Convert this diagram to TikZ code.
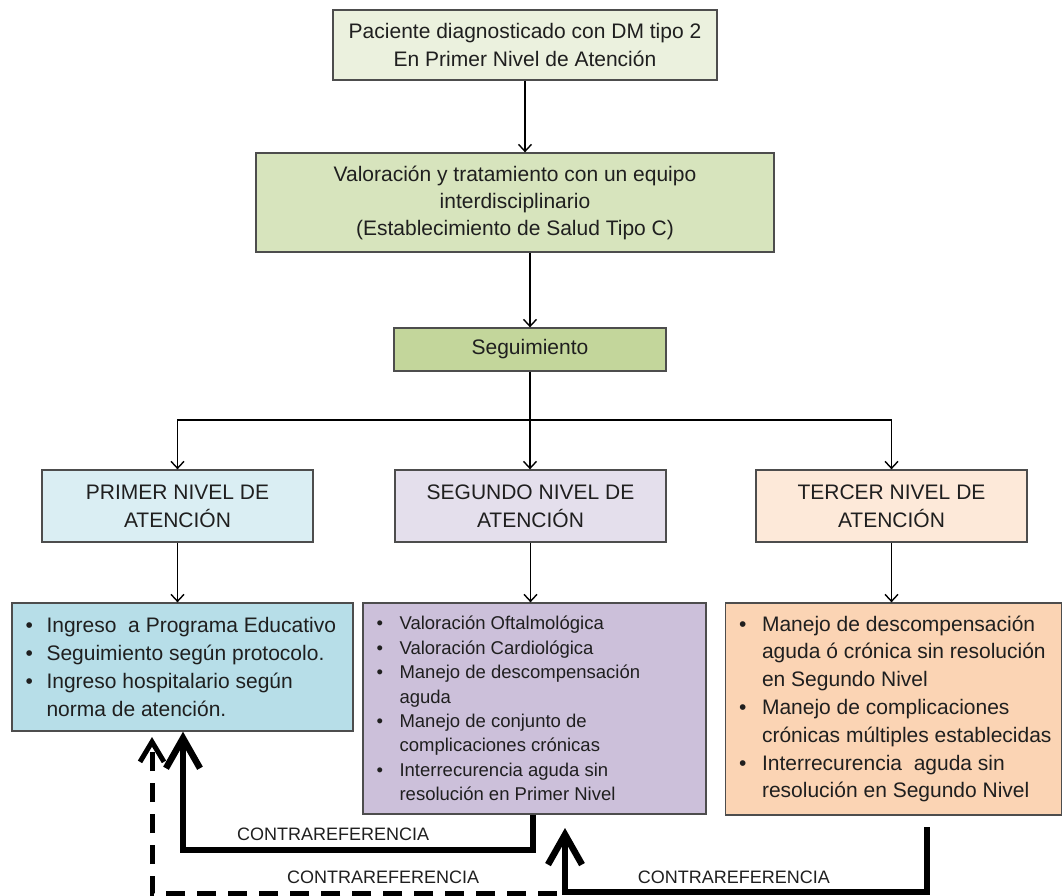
\documentclass[tikz,border=0pt]{standalone}
\usepackage{fontspec}
\setmainfont{Liberation Sans}
\usetikzlibrary{arrows.meta,calc}
\definecolor{bordc}{HTML}{4D4D4D}
\definecolor{txtc}{HTML}{1F1F1F}
\definecolor{cone}{HTML}{EBF1DE}
\definecolor{ctwo}{HTML}{D7E4BD}
\definecolor{cthree}{HTML}{C3D69B}
\definecolor{lone}{HTML}{DAEEF3}
\definecolor{ltwo}{HTML}{E4DFEC}
\definecolor{lthree}{HTML}{FDE9D9}
\definecolor{done}{HTML}{B7DEE8}
\definecolor{dtwo}{HTML}{CCC0DA}
\definecolor{dthree}{HTML}{FBD4B4}
\newcommand{\bla}[1]{\makebox[21pt][l]{\textbullet}#1}
\newcommand{\cla}[1]{\hspace*{21pt}#1}
\newcommand{\blb}[1]{\makebox[23pt][l]{\textbullet}#1}
\newcommand{\clb}[1]{\hspace*{23pt}#1}
\begin{document}
\begin{tikzpicture}[x=1pt,y=-1pt,
  box/.style={draw=bordc,line width=1.3pt,text=txtc,align=center,inner sep=0pt,font=\fontsize{21}{28}\selectfont},
  lst/.style={anchor=west,align=left,inner sep=0pt,text=txtc},
  arr/.style={line width=1.4pt,draw=black,-{Straight Barb[length=7pt,width=13pt]}},
  ln/.style={line width=1.4pt,draw=black},
  cr/.style={line width=6.5pt,line join=miter,-{Straight Barb[length=30pt,width=34pt]}},
  crd/.style={line width=5pt,dash pattern=on 19pt off 12pt,-{Straight Barb[length=20pt,width=24pt]}},
  lab/.style={inner sep=0pt,font=\fontsize{18}{20}\selectfont,text=txtc}]
\useasboundingbox (0,0) rectangle (1062,896);
% top chain
\node[box,fill=cone,minimum width=384pt,minimum height=70pt] (b1) at (525,45)
  {Paciente diagnosticado con DM tipo 2\\En Primer Nivel de Atención};
\node[box,fill=ctwo,minimum width=518pt,minimum height=99pt,font=\fontsize{21}{27}\selectfont] (b2) at (515,202.5)
  {Valoración y tratamiento con un equipo\\interdisciplinario\\(Establecimiento de Salud Tipo C)};
\node[box,fill=cthree,minimum width=272pt,minimum height=43pt] (seg) at (530,349.5) {Seguimiento};
\draw[arr] (b1.south) -- (b1.south |- b2.north);
\draw[arr] (seg.north |- b2.south) -- (seg.north);
% levels
\node[box,fill=lone,minimum width=271pt,minimum height=72pt] (L1) at (177.5,506) {PRIMER NIVEL DE\\ATENCIÓN};
\node[box,fill=ltwo,minimum width=271pt,minimum height=72pt] (L2) at (530.5,506) {SEGUNDO NIVEL DE\\ATENCIÓN};
\node[box,fill=lthree,minimum width=271pt,minimum height=72pt] (L3) at (891.5,506) {TERCER NIVEL DE\\ATENCIÓN};
\coordinate (br) at (530,420);
\draw[ln] (seg.south) -- (br);
\draw[arr] (br) -- (br |- L2.north);
\draw[arr] (br) -| (L1.north);
\draw[arr] (br) -| (L3.north);
% detail boxes
\node[box,fill=done,minimum width=341pt,minimum height=128pt] (D1) at (182.5,667) {};
\node[box,fill=dtwo,minimum width=343pt,minimum height=211pt] (D2) at (534.5,708.5) {};
\node[box,fill=dthree,minimum width=336pt,minimum height=212pt] (D3) at (893.5,709) {};
\node[lst,font=\fontsize{21}{28}\selectfont] (D1t) at ([xshift=14pt]D1.west)
  {\bla{Ingreso\ \ a Programa Educativo}\\
   \bla{Seguimiento según protocolo.}\\
   \bla{Ingreso hospitalario según}\\
   \cla{norma de atención.}};
\node[lst,font=\fontsize{18.5}{24.4}\selectfont] (D2t) at ([xshift=14pt]D2.west)
  {\blb{Valoración Oftalmológica}\\
   \blb{Valoración Cardiológica}\\
   \blb{Manejo de descompensación}\\
   \clb{aguda}\\
   \blb{Manejo de conjunto de}\\
   \clb{complicaciones crónicas}\\
   \blb{Interrecurencia aguda sin}\\
   \clb{resolución en Primer Nivel}};
\node[lst,font=\fontsize{21}{27.8}\selectfont] (D3t) at ([xshift=14pt]D3.west)
  {\blb{Manejo de descompensación}\\
   \clb{aguda ó crónica sin resolución}\\
   \clb{en Segundo Nivel}\\
   \blb{Manejo de complicaciones}\\
   \clb{crónicas múltiples establecidas}\\
   \blb{Interrecurencia\ \ aguda sin}\\
   \clb{resolución en Segundo Nivel}};
\draw[arr] (L1.south) -- (L1.south |- D1.north);
\draw[arr] (L2.south) -- (L2.south |- D2.north);
\draw[arr] (L3.south) -- (L3.south |- D3.north);
% contrareferencias
\coordinate (p1) at (533,850);
\coordinate (q1) at (183,850);
\draw[cr] (p1 |- D2.south) -- (p1) -- (q1) -- (q1 |- D1.south);
\coordinate (s2) at (927,827);
\coordinate (p2) at (927,892);
\coordinate (q2) at (565,892);
\coordinate (t2) at (565,828);
\draw[cr] (s2) -- (p2) -- (q2) -- (t2);
\coordinate (p3) at (557,893);
\coordinate (q3) at (152,893);
\coordinate (t3) at (152,737);
\draw[crd] (p3) -- (q3) -- (t3);
\node[lab,anchor=base west] (lab1) at (237,840) {CONTRAREFERENCIA};
\node[lab,anchor=base west] (lab2) at (287,883) {CONTRAREFERENCIA};
\node[lab,anchor=base east] (lab3) at (830,883) {CONTRAREFERENCIA};
\end{tikzpicture}
\end{document}
